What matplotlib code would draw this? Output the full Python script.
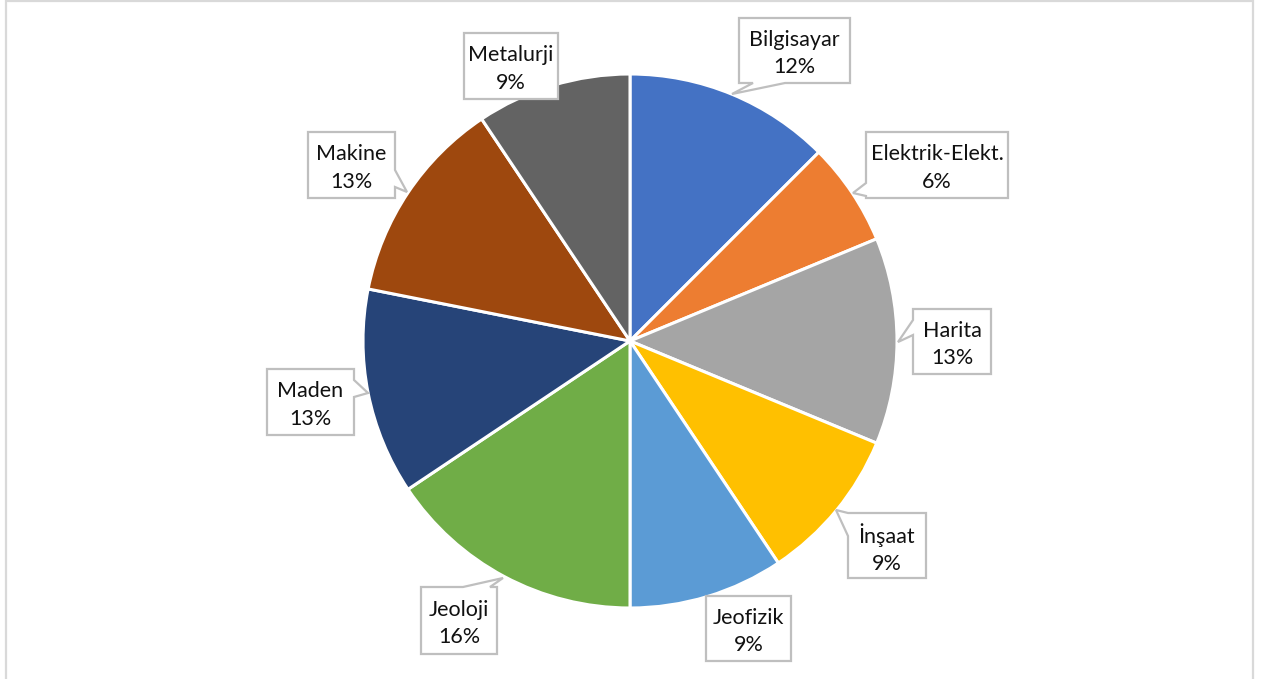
import matplotlib
matplotlib.use("Agg")
import matplotlib.pyplot as plt
from matplotlib.patches import Polygon, Rectangle

# ---- data ----
categories = ["Bilgisayar", "Elektrik-Elekt.", "Harita", "İnşaat", "Jeofizik",
              "Jeoloji", "Maden", "Makine", "Metalurji"]
counts = [4, 2, 4, 3, 3, 5, 4, 4, 3]
pct_labels = ["12%", "6%", "13%", "9%", "9%", "16%", "13%", "13%", "9%"]
colors = ["#4472C4", "#ED7D31", "#A5A5A5", "#FFC000", "#5B9BD5",
          "#70AD47", "#264478", "#9E480E", "#636363"]

W, H = 1262, 679
fig = plt.figure(figsize=(W / 100, H / 100), dpi=100)
ax = fig.add_axes([0, 0, 1, 1])
ax.set_xlim(0, W)
ax.set_ylim(0, H)
ax.set_aspect("equal")
ax.axis("off")

def Y(y):
    return H - y

# outer chart frame
ax.add_patch(Rectangle((6, Y(690)), 1247, 689, fill=False, ec="#D9D9D9", lw=1.6, zorder=0))

# pie
cx, cy, R = 630, 341, 267
ax.pie(counts, colors=colors, startangle=90, counterclock=False,
       center=(cx, Y(cy)), radius=R, frame=True,
       wedgeprops=dict(edgecolor="white", linewidth=2.2))
ax.set_xlim(0, W)
ax.set_ylim(0, H)
ax.axis("off")

# callout boxes: (x0, y0, x1, y1), side, base1, base2, tip
boxes = [
    ((739, 18, 850, 83), "bottom", 785, 753, (732, 94)),
    ((866, 132, 1008, 198), "left", 183, 196, (853, 193)),
    ((913, 309, 991, 374), "left", 320, 335, (898, 342)),
    ((848, 513, 926, 578), "left", 513, 536, (836, 510)),
    ((706, 596, 791, 661), None, None, None, None),
    ((421, 587, 497, 654), "top", 463, 490, (503, 578)),
    ((267, 369, 354, 435), "right", 380, 397, (368, 393)),
    ((308, 132, 395, 198), "right", 170, 187, (407, 192)),
    ((464, 33, 558, 99), None, None, None, None),
]

for (cat, pct, (rect, side, b1, b2, tip)) in zip(categories, pct_labels, boxes):
    x0, y0, x1, y1 = rect
    pts = [(x0, y0)]
    if side == "top":
        pts += [(min(b1, b2), y0), tip, (max(b1, b2), y0)]
    pts.append((x1, y0))
    if side == "right":
        pts += [(x1, min(b1, b2)), tip, (x1, max(b1, b2))]
    pts.append((x1, y1))
    if side == "bottom":
        pts += [(max(b1, b2), y1), tip, (min(b1, b2), y1)]
    pts.append((x0, y1))
    if side == "left":
        pts += [(x0, max(b1, b2)), tip, (x0, min(b1, b2))]
    poly = Polygon([(px, Y(py)) for px, py in pts], closed=True,
                   fc="white", ec="#BFBFBF", lw=1.6, zorder=5, joinstyle="miter")
    ax.add_patch(poly)
    ax.text((x0 + x1) / 2, Y((y0 + y1) / 2 + 3), f"{cat}\n{pct}", ha="center", va="center",
            fontsize=15.5, family="Lato", color="#111111",
            linespacing=1.45, zorder=6)

fig.savefig("out.png", dpi=100)
